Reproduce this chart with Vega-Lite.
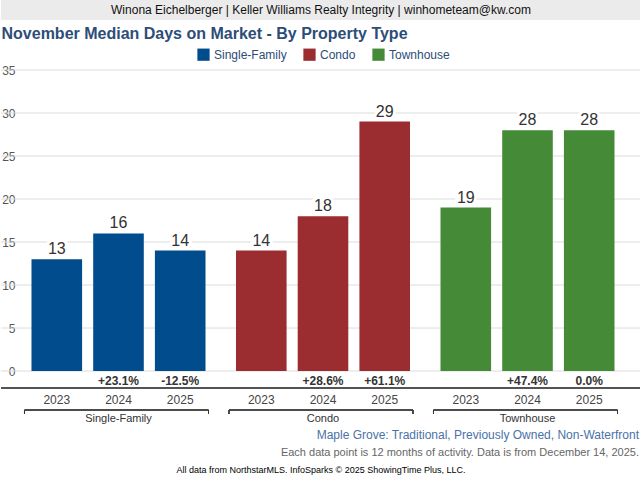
{
  "$schema": "https://vega.github.io/schema/vega-lite/v6.json",
  "padding": 0,
  "background": "white",
  "columns": 1,
  "align": "none",
  "spacing": 6,
  "resolve": {"legend": {"color": "independent"}, "scale": {"color": "independent"}},
  "config": {
    "font": "Liberation Sans",
    "view": {"stroke": null},
    "legend": {"layout": {"top": {"anchor": "middle"}}}
  },
  "concat": [
    {
      "width": 640,
      "height": 20,
      "view": {"fill": "#ebebeb", "stroke": null},
      "data": {"values": [{"t": "Winona Eichelberger | Keller Williams Realty Integrity | winhometeam@kw.com"}]},
      "mark": {"type": "text", "fontSize": 12, "color": "#111"},
      "encoding": {"text": {"field": "t"}}
    },
    {
      "width": 644,
      "height": 301,
      "title": {
        "text": "November Median Days on Market - By Property Type",
        "anchor": "start",
        "frame": "bounds",
        "dx": 1,
        "fontSize": 16,
        "fontWeight": "bold",
        "color": "#2d4d78",
        "offset": 6
      },
      "data": {
        "values": [
          {"group": "Single-Family", "year": "2023", "value": 13, "pct": ""},
          {"group": "Single-Family", "year": "2024", "value": 16, "pct": "+23.1%"},
          {"group": "Single-Family", "year": "2025", "value": 14, "pct": "-12.5%"},
          {"group": "Condo", "year": "2023", "value": 14, "pct": ""},
          {"group": "Condo", "year": "2024", "value": 18, "pct": "+28.6%"},
          {"group": "Condo", "year": "2025", "value": 29, "pct": "+61.1%"},
          {"group": "Townhouse", "year": "2023", "value": 19, "pct": ""},
          {"group": "Townhouse", "year": "2024", "value": 28, "pct": "+47.4%"},
          {"group": "Townhouse", "year": "2025", "value": 28, "pct": "0.0%"}
        ]
      },
      "layer": [
        {
          "data": {"values": [{"v": 0}, {"v": 5}, {"v": 10}, {"v": 15}, {"v": 20}, {"v": 25}, {"v": 30}, {"v": 35}]},
          "mark": {"type": "rule", "color": "#dcdcdc", "strokeWidth": 1, "xOffset": 24, "x2Offset": -24},
          "encoding": {"y": {"field": "v", "type": "quantitative"}}
        },
        {
          "mark": {"type": "bar"},
          "encoding": {
            "x": {
              "field": "group",
              "type": "nominal",
              "sort": ["Single-Family", "Condo", "Townhouse"],
              "scale": {"paddingInner": 0.1491, "paddingOuter": 0.1491},
              "axis": {
                "title": null,
                "domain": false,
                "ticks": false,
                "labelAngle": 0,
                "labelPadding": 0,
                "offset": 41,
                "labelFontSize": 11,
                "labelColor": "#333"
              }
            },
            "xOffset": {
              "field": "year",
              "type": "nominal",
              "scale": {"paddingInner": 0.18, "paddingOuter": 0}
            },
            "y": {
              "field": "value",
              "type": "quantitative",
              "scale": {"domain": [0, 35]},
              "axis": {
                "title": null,
                "values": [0, 5, 10, 15, 20, 25, 30, 35],
                "domain": false,
                "ticks": false,
                "grid": false,
                "labelAlign": "right",
                "labelPadding": -14,
                "labelColor": "#555",
                "labelFontSize": 12
              }
            },
            "color": {
              "field": "group",
              "type": "nominal",
              "scale": {
                "domain": ["Single-Family", "Condo", "Townhouse"],
                "range": ["#004c8c", "#9b2c30", "#458b37"]
              },
              "legend": {
                "orient": "top",
                "direction": "horizontal",
                "title": null,
                "symbolType": "square",
                "symbolSize": 150,
                "symbolStrokeWidth": 0,
                "labelFontSize": 12,
                "labelColor": "#2d4d78",
                "columnPadding": 16,
                "offset": 9
              }
            }
          }
        },
        {
          "mark": {"type": "text", "dy": -10, "fontSize": 16, "stroke": "white", "strokeWidth": 6, "color": "white"},
          "encoding": {
            "x": {"field": "group", "type": "nominal", "sort": ["Single-Family", "Condo", "Townhouse"]},
            "xOffset": {"field": "year", "type": "nominal"},
            "y": {"field": "value", "type": "quantitative"},
            "text": {"field": "value", "type": "quantitative"}
          }
        },
        {
          "mark": {"type": "text", "dy": -10, "fontSize": 16, "color": "#333"},
          "encoding": {
            "x": {"field": "group", "type": "nominal", "sort": ["Single-Family", "Condo", "Townhouse"]},
            "xOffset": {"field": "year", "type": "nominal"},
            "y": {"field": "value", "type": "quantitative"},
            "text": {"field": "value", "type": "quantitative"}
          }
        },
        {
          "mark": {"type": "text", "yOffset": 10, "fontSize": 12, "fontWeight": "bold", "color": "#333"},
          "encoding": {
            "x": {"field": "group", "type": "nominal", "sort": ["Single-Family", "Condo", "Townhouse"]},
            "xOffset": {"field": "year", "type": "nominal"},
            "y": {"datum": 0},
            "text": {"field": "pct", "type": "nominal"}
          }
        },
        {
          "mark": {"type": "text", "yOffset": 29, "fontSize": 12, "color": "#444"},
          "encoding": {
            "x": {"field": "group", "type": "nominal", "sort": ["Single-Family", "Condo", "Townhouse"]},
            "xOffset": {"field": "year", "type": "nominal"},
            "y": {"datum": 0},
            "text": {"field": "year", "type": "nominal"}
          }
        },
        {
          "mark": {"type": "rule", "yOffset": 17, "xOffset": 24, "x2Offset": -24, "color": "#555", "strokeWidth": 1},
          "encoding": {"y": {"datum": 0}}
        },
        {
          "mark": {"type": "rule", "yOffset": 39, "xOffset": -7, "x2Offset": 3, "color": "#333", "strokeWidth": 1},
          "encoding": {
            "x": {"field": "group", "type": "nominal", "sort": ["Single-Family", "Condo", "Townhouse"], "bandPosition": 0},
            "x2": {"field": "group", "bandPosition": 1},
            "y": {"datum": 0}
          }
        },
        {
          "mark": {"type": "rule", "yOffset": 39, "y2Offset": 43, "xOffset": -7, "color": "#333", "strokeWidth": 1},
          "encoding": {
            "x": {"field": "group", "type": "nominal", "sort": ["Single-Family", "Condo", "Townhouse"], "bandPosition": 0},
            "y": {"datum": 0},
            "y2": {"datum": 0}
          }
        },
        {
          "mark": {"type": "rule", "yOffset": 39, "y2Offset": 43, "xOffset": 3, "color": "#333", "strokeWidth": 1},
          "encoding": {
            "x": {"field": "group", "type": "nominal", "sort": ["Single-Family", "Condo", "Townhouse"], "bandPosition": 1},
            "y": {"datum": 0},
            "y2": {"datum": 0}
          }
        }
      ]
    },
    {
      "width": 640,
      "height": 1,
      "view": {"stroke": null},
      "title": {
        "text": "Maple Grove: Traditional, Previously Owned, Non-Waterfront",
        "subtitle": "Each data point is 12 months of activity. Data is from December 14, 2025.",
        "anchor": "end",
        "dx": -2,
        "fontSize": 12,
        "fontWeight": "normal",
        "color": "#4a72a8",
        "subtitleColor": "#666",
        "subtitleFontSize": 11,
        "subtitlePadding": 5,
        "offset": 0
      },
      "data": {"values": []},
      "mark": {"type": "text"},
      "encoding": {}
    },
    {
      "width": 640,
      "height": 1,
      "view": {"stroke": null},
      "title": {
        "text": "All data from NorthstarMLS. InfoSparks © 2025 ShowingTime Plus, LLC.",
        "anchor": "middle",
        "fontSize": 9,
        "fontWeight": "normal",
        "color": "#000",
        "offset": 0
      },
      "data": {"values": []},
      "mark": {"type": "text"},
      "encoding": {}
    }
  ]
}
